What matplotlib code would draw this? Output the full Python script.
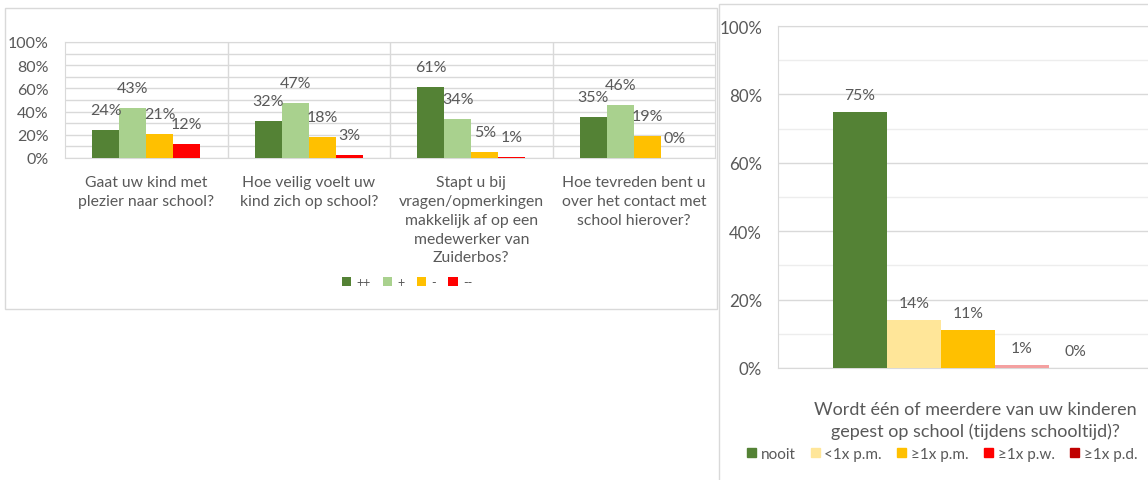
import numpy as np
import matplotlib.pyplot as plt
from matplotlib.patches import Rectangle

plt.rcParams['font.family'] = ['Lato', 'DejaVu Sans']

# linker grafiek
vragen = ['Gaat uw kind met\nplezier naar school?',
          'Hoe veilig voelt uw\nkind zich op school?',
          'Stapt u bij\nvragen/opmerkingen\nmakkelijk af op een\nmedewerker van\nZuiderbos?',
          'Hoe tevreden bent u\nover het contact met\nschool hierover?']
antw_links = ['++', '+', '-', '--']
pct_links = [[24, 32, 61, 35],
             [43, 47, 34, 46],
             [21, 18, 5, 19],
             [12, 3, 1, 0]]
kl_links = ['#548235', '#A9D18E', '#FFC000', '#FF0000']

# rechter grafiek
vraag_pest = 'Wordt één of meerdere van uw kinderen\ngepest op school (tijdens schooltijd)?'
antw_pest = ['nooit', '<1x p.m.', '≥1x p.m.', '≥1x p.w.', '≥1x p.d.']
pct_pest = [75, 14, 11, 1, 0]
kl_pest = ['#548235', '#FFE699', '#FFC000', '#FF0000', '#C00000']

W, H = 1148, 481
txt = '#595959'
grid_major = '#D9D9D9'
grid_minor = '#EDEDED'


def box(x0, y0, x1, y1):
    # pixels (top-left origin) -> figure fraction
    return [x0 / W, 1 - y1 / H, (x1 - x0) / W, (y1 - y0) / H]


fig = plt.figure(figsize=(W / 100, H / 100), dpi=100)

# kaders
b = box(5, 9, 717, 310)
fig.patches.append(Rectangle((b[0], b[1]), b[2], b[3], transform=fig.transFigure,
                             facecolor='white', edgecolor=grid_major, lw=1, zorder=-2))
b = box(719, 5, 1170, 500)
fig.patches.append(Rectangle((b[0], b[1]), b[2], b[3], transform=fig.transFigure,
                             facecolor='white', edgecolor=grid_major, lw=1, zorder=-1))

# ---- links ----
ax = fig.add_axes(box(65, 43, 715, 159))
ax.set_zorder(2)
x = np.arange(len(vragen))
bw = 0.166
bars_l = []
for i, (naam, vals) in enumerate(zip(antw_links, pct_links)):
    pos = x + (i - 1.5) * bw
    bb = ax.bar(pos, vals, bw, color=kl_links[i], label=naam, zorder=3)
    bars_l.append(bb)
    for p, v in zip(pos, vals):
        ax.annotate(f'{v}%', (p, v), xytext=(0, 20), textcoords='offset pixels',
                    ha='center', va='center', fontsize=11.5, color=txt, zorder=4)
ax.set_xlim(-0.5, 3.5)
ax.set_ylim(0, 100)
ax.set_yticks(np.arange(0, 101, 20))
ax.set_yticklabels([f'{t}%' for t in range(0, 101, 20)])
ax.set_yticks(np.arange(0, 101, 10), minor=True)
ax.grid(axis='y', which='both', color=grid_major, lw=1, zorder=0)
for xv in [0.5, 1.5, 2.5]:
    ax.axvline(xv, color=grid_major, lw=1, zorder=1)
ax.set_xticks(x)
ax.set_xticklabels(vragen, fontsize=11.3, color=txt, linespacing=1.45, va='top')
ax.tick_params(axis='x', length=0, pad=12)
ax.tick_params(axis='y', which='both', length=0, labelsize=11.5, labelcolor=txt, pad=12)
for s in ['top', 'right', 'left', 'bottom']:
    ax.spines[s].set_color(grid_major)
fig.legend(handles=bars_l, labels=antw_links, loc='center', ncol=4,
           bbox_to_anchor=(407 / W, 1 - 283 / H), frameon=False, fontsize=9,
           labelcolor=txt, handlelength=0.75, handleheight=0.75,
           handletextpad=0.4, columnspacing=1.0)

# ---- rechts ----
ax2 = fig.add_axes(box(778, 27, 1158, 369))
ax2.set_zorder(2)
bw2 = 0.142
pos2 = (np.arange(len(antw_pest)) - 2) * bw2
bars_r = []
for p, v, k, naam in zip(pos2, pct_pest, kl_pest, antw_pest):
    kleur = '#F4A0A0' if naam == '≥1x p.w.' else k
    bb = ax2.bar(p, v, bw2, color=kleur, zorder=3)
    bars_r.append(Rectangle((0, 0), 1, 1, color=k))
    ax2.annotate(f'{v}%', (p, v), xytext=(0, 17), textcoords='offset pixels',
                 ha='center', va='center', fontsize=11.3, color=txt, zorder=4)
ax2.set_xlim(-0.5, 0.5)
ax2.set_ylim(0, 100)
ax2.set_yticks(np.arange(0, 101, 20))
ax2.set_yticklabels([f'{t}%' for t in range(0, 101, 20)])
ax2.set_yticks(np.arange(0, 101, 10), minor=True)
ax2.yaxis.grid(True, which='major', color=grid_major, lw=1, zorder=0)
ax2.yaxis.grid(True, which='minor', color=grid_minor, lw=1, zorder=0)
ax2.set_xticks([])
ax2.tick_params(axis='y', which='both', length=0, labelsize=12.2, labelcolor=txt, pad=11.5)
for s in ['top', 'right', 'left', 'bottom']:
    ax2.spines[s].set_color(grid_major)
fig.text(975 / W, 1 - 421 / H, vraag_pest, ha='center', va='center',
         fontsize=13, color=txt, linespacing=1.35)
fig.legend(handles=bars_r, labels=antw_pest, loc='center', ncol=5,
           bbox_to_anchor=(942 / W, 1 - 455 / H), frameon=False, fontsize=11,
           labelcolor=txt, handlelength=0.6, handleheight=0.6,
           handletextpad=0.3, columnspacing=1.0)

fig.savefig('out.png', dpi=100)
